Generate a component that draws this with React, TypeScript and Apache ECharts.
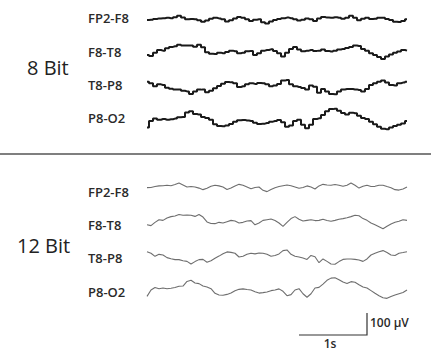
import React, { useEffect, useRef } from "react";
import * as echarts from "echarts";

// Channel labels
const channels = ["FP2-F8", "F8-T8", "T8-P8", "P8-O2"];
const resolutions = ["8 Bit", "12 Bit"];
const scaleTimeLabel = "1s";
const scaleAmpLabel = "100 µV";

// EEG samples in µV (one sample ≈ 1/17 s)
const fp2F8 = [-3, -2, 2, 5, 6, 8, 6, 11, 18, 9, 0, 2, 0, -5, -12, -6, 3, 8, 5, 0, -11, -5, 5, 12, 8, 0, -8, -2, 0, -15, -21, -11, -3, 2,
  6, 9, 6, 0, -6, -2, 5, 0, -9, 5, 12, 9, 8, 11, 8, 3, 8, 18, 8, -5, 3, 8, 2, 3, 8, 8, 2, -3, -12, -14, -9, 0];
const f8T8 = [-8, -12, 3, 15, 12, 23, 29, 32, 39, 35, 36, 35, 30, 39, 27, 5, -2, -3, 3, 0, 6, 12, 9, 0, 3, 9, 11, -8, 0, 12, 15, 18, 11, 0,
  -15, 3, 20, 29, 17, 9, 12, 15, 11, 12, 17, 11, 8, 12, 17, 20, 24, 29, 35, 33, 20, 12, 0, -8, -17, -26, -15, -5, 3, 8, 15, 12];
const t8P8 = [15, 8, -6, 3, 0, -12, -17, -21, -21, -26, -29, -41, -30, -21, -20, -33, -26, -15, -5, 6, 14, 12, 8, -9, -6, 3, 8, 5, 9, 8, 3, -6, -2, 5,
  20, 23, 3, -6, -9, -14, -20, -2, -8, -35, -18, -29, -41, -42, -30, -20, -18, -18, -20, -23, -29, -18, 0, 8, 15, 20, 11, 0, -2, 8, 11, 15];
const p8O2 = [-29, 0, 11, 6, 9, 6, 8, 11, 17, 18, 39, 44, 32, 29, 18, 14, 6, -15, -23, -24, -20, -14, -3, 3, 5, 2, 0, -8, -14, -12, -9, -3, 0, 5,
  -6, -26, -21, 0, 6, -17, -33, -17, 9, 12, 27, 44, 54, 56, 47, 36, 30, 38, 35, 24, 14, 9, -3, -15, -26, -35, -38, -30, -23, -17, -11, 0];
const signals = [fp2F8, f8T8, t8P8, p8O2];

export default function App() {
  const ref = useRef<HTMLDivElement>(null);
  useEffect(() => {
    if (!ref.current) return;
    const chart = echarts.init(ref.current, null, { renderer: "svg" });
    const baselines = [
      [16.7, 53.3, 85, 121],
      [187, 223, 255, 290],
    ];
    const labelCenters = [
      [18, 52, 85, 118],
      [192, 225, 258, 292],
    ];
    const grids: any[] = [];
    const xAxes: any[] = [];
    const yAxes: any[] = [];
    const series: any[] = [];
    const graphics: any[] = [];
    const font = "'Open Sans', 'Noto Sans', sans-serif";
    let gi = 0;
    resolutions.forEach((res, r) => {
      signals.forEach((sig, c) => {
        const base = baselines[r][c];
        grids.push({ left: 147, width: 260, top: base - 22, height: 44 });
        xAxes.push({ type: "value", gridIndex: gi, min: 0, max: sig.length - 1, show: false });
        yAxes.push({ type: "value", gridIndex: gi, min: -100, max: 100, show: false });
        series.push({
          type: "line",
          xAxisIndex: gi,
          yAxisIndex: gi,
          data: sig.map((v, i) => [i, v]),
          showSymbol: false,
          symbol: "none",
          clip: false,
          step: r === 0 ? "middle" : false,
          lineStyle: r === 0 ? { color: "#1a1a1a", width: 2 } : { color: "#6e6e6e", width: 1.1 },
        });
        graphics.push({
          type: "text",
          x: 88,
          y: labelCenters[r][c],
          style: { text: channels[c], fill: "#2a2a2a", font: `600 13px ${font}`, verticalAlign: "middle", align: "left" },
        });
        gi++;
      });
    });
    graphics.push({ type: "text", x: 27, y: 67, style: { text: resolutions[0], fill: "#222", font: `500 20px ${font}`, verticalAlign: "middle" } });
    graphics.push({ type: "text", x: 17, y: 245, style: { text: resolutions[1], fill: "#222", font: `500 20px ${font}`, verticalAlign: "middle" } });
    graphics.push({ type: "line", shape: { x1: 0, y1: 154, x2: 431, y2: 154 }, style: { stroke: "#555", lineWidth: 1.5 } });
    // scale bar
    graphics.push({ type: "polyline", shape: { points: [[367, 313], [367, 335], [299, 335]] }, style: { stroke: "#333", lineWidth: 1.2, fill: null } });
    graphics.push({ type: "text", x: 370, y: 322, style: { text: scaleAmpLabel, fill: "#2a2a2a", font: `600 12px ${font}`, verticalAlign: "middle" } });
    graphics.push({ type: "text", x: 330, y: 343, style: { text: scaleTimeLabel, fill: "#2a2a2a", font: `600 12px ${font}`, verticalAlign: "middle", align: "center" } });

    chart.setOption({
      animation: false,
      grid: grids,
      xAxis: xAxes,
      yAxis: yAxes,
      series,
      graphic: graphics,
    });
    return () => chart.dispose();
  }, []);
  return <div ref={ref} style={{ position: "fixed", left: 0, top: 0, width: 431, height: 358, background: "#fff" }} />;
}
